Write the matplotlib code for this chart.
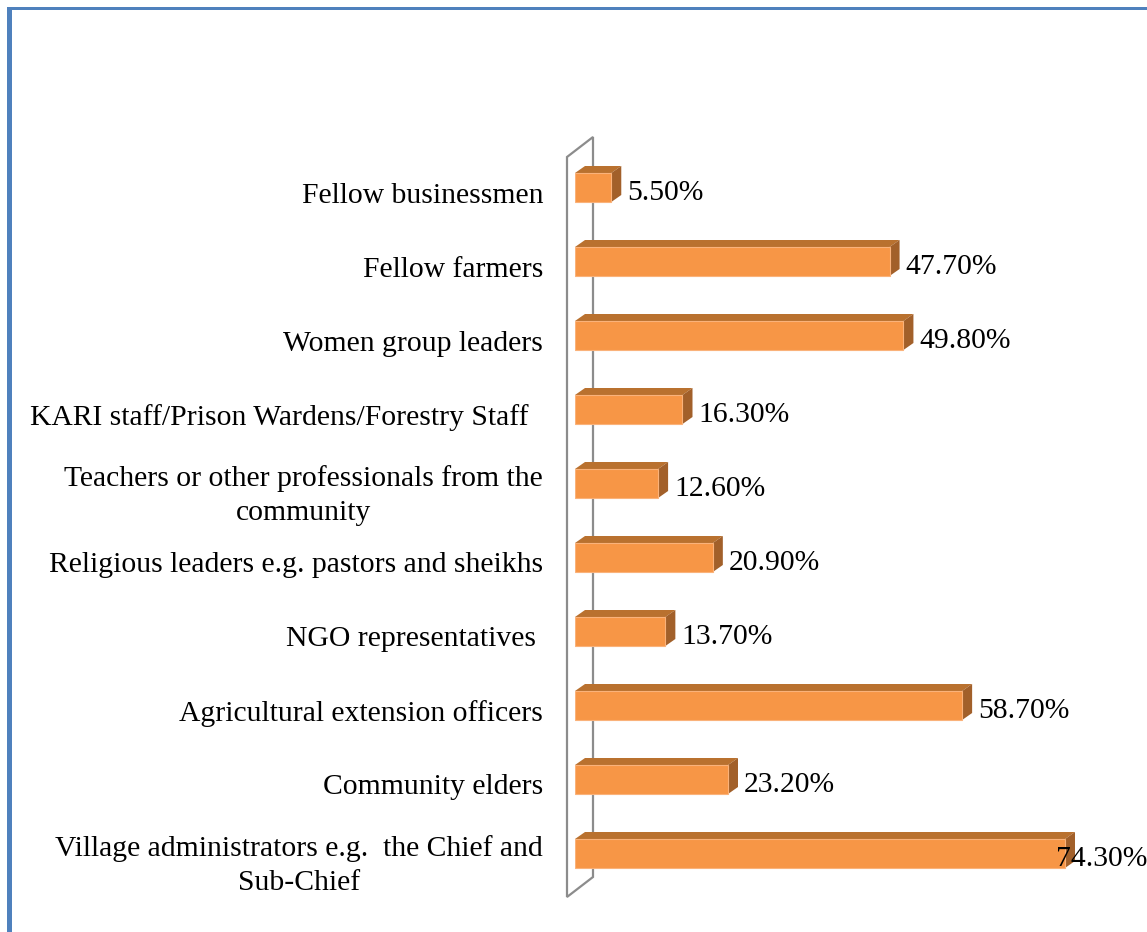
import matplotlib.pyplot as plt
from matplotlib.patches import Polygon, Rectangle
from matplotlib.transforms import ScaledTranslation
import numpy as np

plt.rcParams['font.family'] = ['Liberation Serif', 'DejaVu Serif']

# bottom to top
categories = ['Village administrators e.g.  the Chief and\nSub-Chief',
              'Community elders',
              'Agricultural extension officers',
              'NGO representatives ',
              'Religious leaders e.g. pastors and sheikhs',
              'Teachers or other professionals from the\ncommunity',
              'KARI staff/Prison Wardens/Forestry Staff  ',
              'Women group leaders',
              'Fellow farmers',
              'Fellow businessmen']
values = [74.3, 23.2, 58.7, 13.7, 20.9, 12.6, 16.3, 49.8, 47.7, 5.5]
value_labels = ['74.30%', '23.20%', '58.70%', '13.70%', '20.90%',
                '12.60%', '16.30%', '49.80%', '47.70%', '5.50%']

FRONT = '#F79646'
TOP = '#B9712F'
SIDE = '#A2602A'
FS = 21.3

W, H = 1147, 932
fig = plt.figure(figsize=(W / 100, H / 100), dpi=100)

# axes placed so that 0% sits at x=575px and 1% ~ 6.6px
px_per_pct = 490 / 74.3
x_max = 80
left_px = 575
top_px, bot_px = 150.5, 890.5
ax = fig.add_axes([left_px / W, (H - bot_px) / H,
                   x_max * px_per_pct / W, (bot_px - top_px) / H])
ax.set_xlim(0, x_max)
ax.set_ylim(-0.5, 9.5)
px_per_cat = (bot_px - top_px) / 10

bar_h = 29 / px_per_cat
dx = 10 / px_per_pct
dy = 7 / px_per_cat

y = np.arange(len(values))

# wall (left side plane of the 3d chart)
wx0, wx1 = -8 / px_per_pct, 18 / px_per_pct
wall = Polygon([(wx0, -0.5 - 6.5 / px_per_cat), (wx1, -0.5 + 13.5 / px_per_cat),
                (wx1, 9.5 + 13.5 / px_per_cat), (wx0, 9.5 - 6.5 / px_per_cat)],
               closed=True, facecolor='none', edgecolor='#8C8C8C', lw=1.6,
               clip_on=False, zorder=1)
ax.add_patch(wall)

ax.barh(y, values, height=bar_h, color=FRONT, edgecolor='#FAB27A',
        linewidth=0.8, zorder=3)
for yi, v in zip(y, values):
    b, t = yi - bar_h / 2, yi + bar_h / 2
    top = Polygon([(0, t), (dx, t + dy), (v + dx, t + dy), (v, t)],
                  closed=True, facecolor=TOP, edgecolor='none', zorder=2,
                  clip_on=False)
    side = Polygon([(v, b), (v, t), (v + dx, t + dy), (v + dx, b + dy)],
                   closed=True, facecolor=SIDE, edgecolor='none', zorder=2,
                   clip_on=False)
    ax.add_patch(top)
    ax.add_patch(side)

shift = ScaledTranslation(0, -5 / 100, fig.dpi_scale_trans)

for yi, v, lab in zip(y, values, value_labels):
    xt = min(v + 16 / px_per_pct, 72.9)
    ax.text(xt, yi, lab, ha='left', va='center', fontsize=FS,
            color='black', zorder=5, clip_on=False,
            transform=ax.transData + shift)

ax.set_yticks(y)
ax.set_yticklabels(categories, fontsize=FS, multialignment='center',
                   linespacing=1.38)
ax.tick_params(axis='y', length=0, pad=23)
for lbl in ax.get_yticklabels():
    lbl.set_transform(lbl.get_transform() + shift)
ax.set_xticks([])
for s in ax.spines.values():
    s.set_visible(False)
ax.patch.set_alpha(0)

# blue frame on top and left
fig.add_artist(Rectangle((7 / W, 0), 5 / W, (H - 7) / H, transform=fig.transFigure,
                         facecolor='#4F81BD', edgecolor='none'))
fig.add_artist(Rectangle((7 / W, (H - 10) / H), (W - 7) / W, 3 / H,
                         transform=fig.transFigure, facecolor='#4F81BD',
                         edgecolor='none'))

fig.savefig('out.png', dpi=100)
